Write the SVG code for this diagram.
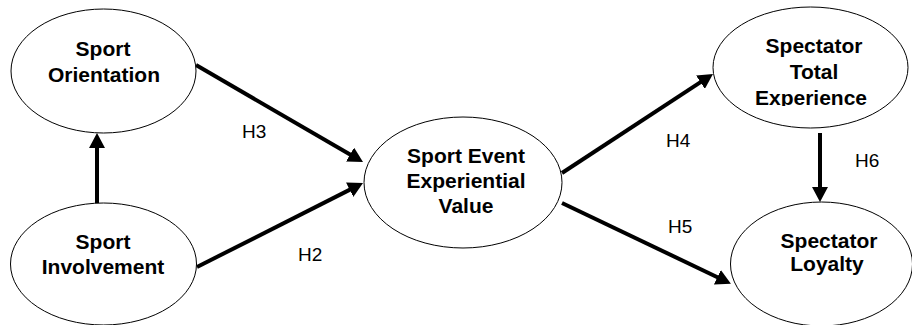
<svg xmlns="http://www.w3.org/2000/svg" width="912" height="325" viewBox="0 0 912 325">
<style>
.node{fill:#fff;stroke:#000;stroke-width:1}
.lbl{font-family:"Liberation Sans",Arial,sans-serif;font-weight:bold;font-size:21px;fill:#000;text-anchor:middle}
.h{font-family:"Liberation Sans",Arial,sans-serif;font-size:19px;fill:#000}
.edge{stroke:#000;stroke-width:4;fill:none}
</style>
<defs>
<marker id="arr" markerUnits="userSpaceOnUse" markerWidth="16" markerHeight="16" refX="7" refY="8" orient="auto">
<path d="M0,0 L15,8 L0,16 z" fill="#000"/>
</marker>
<clipPath id="clipSTE"><rect x="700" y="0" width="212" height="106"/></clipPath>
</defs>
<rect width="912" height="325" fill="#fff"/>
<g id="connectors">
<path class="edge" d="M97,203 L97,141" marker-end="url(#arr)"/>
<path class="edge" d="M196,65 L356.1,158" marker-end="url(#arr)"/>
<path class="edge" d="M197,267 L355.9,186.6" marker-end="url(#arr)"/>
<path class="edge" d="M562,173 L706.3,78.4" marker-end="url(#arr)"/>
<path class="edge" d="M562,203 L723.7,280.2" marker-end="url(#arr)"/>
<path class="edge" d="M820,133 L820,194" marker-end="url(#arr)"/>
<text class="h" x="242" y="138">H3</text>
<text class="h" x="298" y="261">H2</text>
<text class="h" x="666" y="147">H4</text>
<text class="h" x="668" y="233">H5</text>
<text class="h" x="855" y="167">H6</text>
</g>
<g id="sport-orientation">
<ellipse class="node" cx="103.5" cy="71" rx="92.5" ry="62"/>
<text class="lbl" x="103" y="56">Sport</text>
<text class="lbl" x="104" y="82">Orientation</text>
</g>
<g id="sport-involvement">
<ellipse class="node" cx="103.5" cy="264" rx="93" ry="61"/>
<text class="lbl" x="103" y="249">Sport</text>
<text class="lbl" x="103" y="274">Involvement</text>
</g>
<g id="sport-event-experiential-value">
<ellipse class="node" cx="463" cy="182.5" rx="99" ry="65.5"/>
<text class="lbl" x="466" y="163">Sport Event</text>
<text class="lbl" x="466" y="188">Experiential</text>
<text class="lbl" x="466" y="213">Value</text>
</g>
<g id="spectator-total-experience">
<ellipse class="node" cx="810.5" cy="67.5" rx="97.5" ry="60.5"/>
<g clip-path="url(#clipSTE)">
<text class="lbl" x="814" y="53">Spectator</text>
<text class="lbl" x="814" y="79">Total</text>
<text class="lbl" x="811" y="105">Experience</text>
</g>
</g>
<g id="spectator-loyalty">
<ellipse class="node" cx="821.5" cy="264" rx="91" ry="62"/>
<text class="lbl" x="829" y="248">Spectator</text>
<text class="lbl" x="827" y="271">Loyalty</text>
</g>
</svg>
